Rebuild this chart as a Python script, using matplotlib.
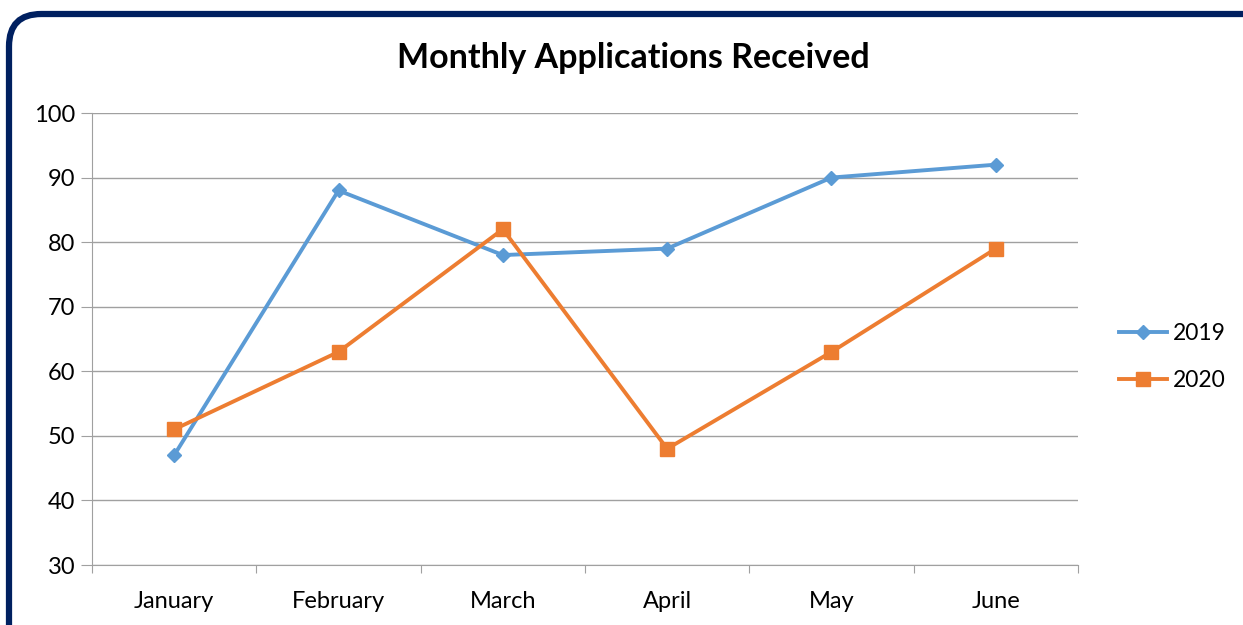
import matplotlib.pyplot as plt
from matplotlib.patches import FancyBboxPatch

months = ['January', 'February', 'March', 'April', 'May', 'June']
apps_2019 = [47, 88, 78, 79, 90, 92]
apps_2020 = [51, 63, 82, 48, 63, 79]

plt.rcParams['font.family'] = ['Lato', 'DejaVu Sans']

W, H = 1243, 625
fig = plt.figure(figsize=(W / 100, H / 100), dpi=100)

# navy rounded frame, running off the right and bottom edges
frame = FancyBboxPatch((9 / W, -0.2), 1.2, 1 - 14 / H + 0.2,
                       boxstyle='round,pad=0,rounding_size=0.026',
                       transform=fig.transFigure, fill=False,
                       edgecolor='#002060', lw=4.5, mutation_aspect=W / H)
fig.patches.append(frame)

ax = fig.add_axes([92 / W, 1 - 565 / H, (1078 - 92) / W, (565 - 113) / H])
x = list(range(len(months)))
ax.plot(x, apps_2019, color='#5B9BD5', lw=2.8, marker='D', ms=7.5, label='2019')
ax.plot(x, apps_2020, color='#ED7D31', lw=2.8, marker='s', ms=10, label='2020')

ax.set_xlim(-0.5, 5.5)
ax.set_ylim(30, 100)
ax.set_yticks(range(30, 101, 10))
ax.yaxis.grid(True, color='#A0A0A0', lw=1)
ax.set_axisbelow(True)
ax.set_xticks([i - 0.5 for i in range(7)], minor=False)
ax.set_xticklabels([])
ax.set_xticks(x, minor=True)
ax.set_xticklabels(months, minor=True, fontsize=17)
ax.tick_params(axis='x', which='minor', length=0, pad=19)
ax.tick_params(axis='x', which='major', length=6, color='#A0A0A0', direction='out')
ax.tick_params(axis='y', length=8, color='#A0A0A0', labelsize=17, pad=4)
for s in ['top', 'right']:
    ax.spines[s].set_visible(False)
ax.spines['left'].set_color('#A0A0A0')
ax.spines['bottom'].set_color('#A0A0A0')

fig.text(633 / W, 1 - 58 / H, 'Monthly Applications Received', ha='center', va='center',
         fontsize=24.5, fontweight='bold')
fig.legend(loc='center left', bbox_to_anchor=(1114 / W, 1 - 357 / H), frameon=False,
           fontsize=16.5, handlelength=2.1, labelspacing=1.1, handletextpad=0.25,
           borderpad=0.2, borderaxespad=0)

fig.savefig('out.png', dpi=100)
